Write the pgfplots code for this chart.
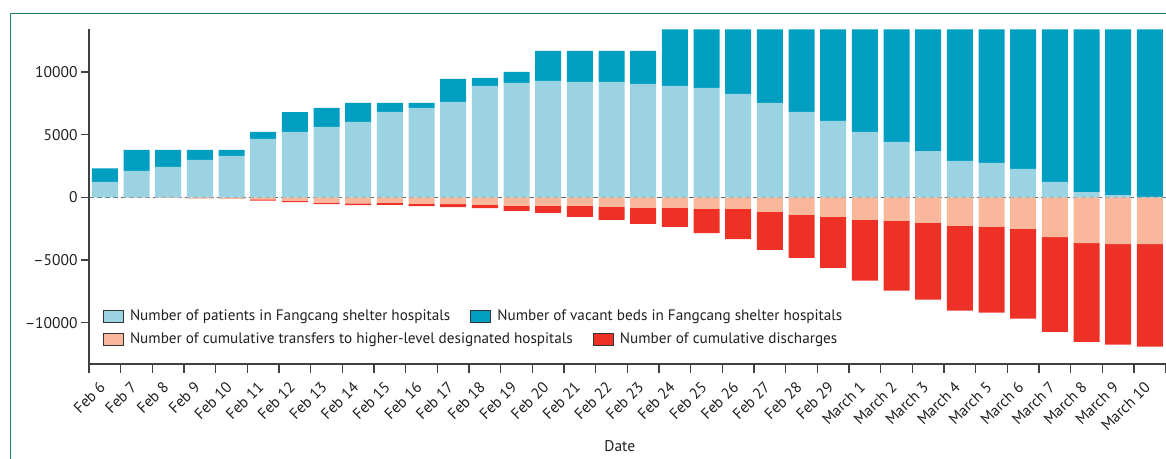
\documentclass[border=0pt]{standalone}
\usepackage{pgfplots}
\pgfplotsset{compat=1.18}
\usepackage{pgfplotstable}
\usepackage{fontspec}
\setmainfont{PT Sans}

\definecolor{patients}{RGB}{155,211,227}
\definecolor{vacant}{RGB}{0,159,194}
\definecolor{transfer}{RGB}{249,183,156}
\definecolor{discharge}{RGB}{238,49,38}
\definecolor{framegreen}{RGB}{34,130,90}
\definecolor{axisgrey}{RGB}{64,64,64}
\definecolor{zerodash}{RGB}{85,105,115}
\definecolor{txt}{RGB}{35,31,32}

\pgfplotstableread{
x patients vacant transfers discharges
0 1220 1080 0 0
1 2100 1680 -30 0
2 2420 1360 -40 0
3 2980 800 -110 0
4 3300 480 -130 0
5 4650 560 -160 -110
6 5210 1590 -270 -110
7 5610 1520 -430 -120
8 6010 1520 -480 -140
9 6810 720 -440 -170
10 7130 400 -530 -170
11 7610 1830 -540 -240
12 8880 640 -610 -250
13 9120 880 -690 -400
14 9280 2400 -690 -560
15 9200 2480 -690 -880
16 9200 2480 -770 -1040
17 9040 2640 -850 -1280
18 8880 4520 -850 -1520
19 8720 4680 -930 -1920
20 8240 5160 -930 -2400
21 7530 5870 -1170 -3030
22 6810 6590 -1410 -3430
23 6090 7310 -1570 -4070
24 5210 8190 -1810 -4840
25 4410 8990 -1890 -5560
26 3690 9710 -2050 -6120
27 2900 10500 -2290 -6760
28 2740 10660 -2370 -6840
29 2260 11140 -2530 -7160
30 1220 12180 -3170 -7560
31 420 12980 -3650 -7880
32 180 13220 -3730 -8030
33 40 13360 -3730 -8190
}\data

\begin{document}
\begin{tikzpicture}[font=\fontsize{15.5bp}{18bp}\selectfont]
\begin{axis}[
  at={(0,0)}, anchor=south west,
  width=1076.7bp, height=334.7bp, scale only axis,
  xmin=-0.5, xmax=33.5, ymin=-13300, ymax=13400,
  ybar stacked, stack negative=separate, bar width=26bp,
  axis lines*=left,
  axis line style={axisgrey, line width=1.7bp, -},
  scaled y ticks=false,
  ytick={-10000,-5000,0,5000,10000},
  yticklabels={--10000,--5000,0,5000,10000},
  xtick={0,...,33},
  xticklabels={Feb 6,Feb 7,Feb 8,Feb 9,Feb 10,Feb 11,Feb 12,Feb 13,Feb 14,Feb 15,Feb 16,Feb 17,Feb 18,Feb 19,Feb 20,Feb 21,Feb 22,Feb 23,Feb 24,Feb 25,Feb 26,Feb 27,Feb 28,Feb 29,March 1,March 2,March 3,March 4,March 5,March 6,March 7,March 8,March 9,March 10},
  minor xtick={-0.5,0.5,...,33.5},
  tick align=outside,
  major tick length=8bp,
  minor tick length=9bp,
  tick style={axisgrey, line width=1.3bp},
  major x tick style={draw=none},
  tick label style={font=\fontsize{15.5bp}{18bp}\selectfont, text=txt},
  xticklabel style={yshift=-10bp, rotate=45, anchor=east},
  xlabel={Date},
  xlabel style={at={(axis description cs:0.493,0)}, anchor=center, yshift=-82bp, font=\fontsize{15.5bp}{18bp}\selectfont, text=txt},
]
\addplot[fill=patients, draw=none] table[x=x,y=patients]{\data};
\addplot[fill=vacant, draw=none] table[x=x,y=vacant]{\data};
\addplot[fill=transfer, draw=none] table[x=x,y=transfers]{\data};
\addplot[fill=discharge, draw=none] table[x=x,y=discharges]{\data};
\draw[zerodash, line width=1.1bp, dash pattern=on 5bp off 3bp] (axis cs:-0.5,0) -- (axis cs:33.5,0);
\end{axis}

\begin{scope}[font=\fontsize{15.2bp}{18bp}\selectfont, every node/.style={inner sep=0pt, text=txt}]
\node[draw=black!80, line width=0.8bp, fill=patients, minimum width=20bp, minimum height=12bp, anchor=south west] (s1) at (14bp,41bp) {};
\node[anchor=west] (t1) at ([xshift=6bp]s1.east) {Number of patients in Fangcang shelter hospitals};
\node[draw=black!80, line width=0.8bp, fill=vacant, minimum width=20bp, minimum height=12bp, anchor=west] (s2) at ([xshift=20bp]t1.east) {};
\node[anchor=west] (t2) at ([xshift=6bp]s2.east) {Number of vacant beds in Fangcang shelter hospitals};
\node[draw=black!80, line width=0.8bp, fill=transfer, minimum width=20bp, minimum height=12bp, anchor=south west] (s3) at (14bp,18bp) {};
\node[anchor=west] (t3) at ([xshift=6bp]s3.east) {Number of cumulative transfers to higher-level designated hospitals};
\node[draw=black!80, line width=0.8bp, fill=discharge, minimum width=20bp, minimum height=12bp, anchor=west] (s4) at ([xshift=20bp]t3.east) {};
\node[anchor=west] (t4) at ([xshift=6bp]s4.east) {Number of cumulative discharges};
\end{scope}

\draw[framegreen, line width=1bp] (-78.7bp,-120bp) -- (-78.7bp,350.7bp) -- (1100bp,350.7bp);

\pgfresetboundingbox
\useasboundingbox (-89bp,-95bp) rectangle (1077bp,364bp);
\end{tikzpicture}
\end{document}
